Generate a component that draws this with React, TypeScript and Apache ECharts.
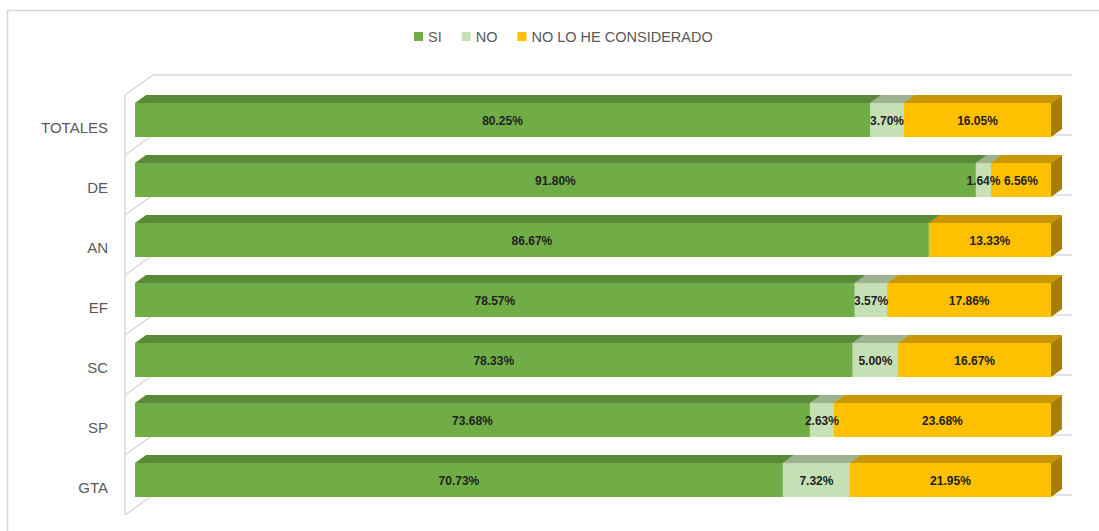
import React, { useEffect, useRef } from "react";
import * as echarts from "echarts";

const categories = ["TOTALES", "DE", "AN", "EF", "SC", "SP", "GTA"];
const siValues = [80.25, 91.8, 86.67, 78.57, 78.33, 73.68, 70.73];
const noValues = [3.7, 1.64, 0, 3.57, 5.0, 2.63, 7.32];
const noLoValues = [16.05, 6.56, 13.33, 17.86, 16.67, 23.68, 21.95];
const seriesNames = ["SI", "NO", "NO LO HE CONSIDERADO"];

const palettes = [
  { front: "#70AD47", top: "#5A8A39", side: "#4C7630" },
  { front: "#C5E0B4", top: "#9DB390", side: "#869a7a" },
  { front: "#FFC000", top: "#C99800", side: "#A67E00" },
];

const DX = 11;
const DY = 8;
const FONT = "Liberation Sans, Arial, sans-serif";

function buildStack(values: number[][]) {
  const out: number[][][] = values.map(() => []);
  categories.forEach((_, i) => {
    let acc = 0;
    values.forEach((arr, s) => {
      const v = arr[i];
      out[s].push([i, acc, acc + v, v]);
      acc += v;
    });
  });
  return out;
}

export default function App() {
  const ref = useRef<HTMLDivElement>(null);
  useEffect(() => {
    if (!ref.current) return;
    const chart = echarts.init(ref.current, null, { renderer: "svg" });
    const stacks = buildStack([siValues, noValues, noLoValues]);

    const barSeries = stacks.map((data, s) => ({
      type: "custom",
      name: seriesNames[s],
      itemStyle: { color: palettes[s].front },
      data,
      encode: { x: [1, 2], y: 0 },
      z: 10 + s,
      renderItem: (params: any, api: any) => {
        const i = api.value(0);
        const start = api.value(1);
        const end = api.value(2);
        const p0 = api.coord([start, i]);
        const p1 = api.coord([end, i]);
        const xa = p0[0];
        const xb = p1[0];
        if (xb - xa < 0.3) return null;
        const yc = p0[1];
        const yt = yc - 24;
        const yb = yc + 10;
        const pal = palettes[s];
        return {
          type: "group",
          children: [
            {
              type: "polygon",
              shape: { points: [[xa, yt], [xa + DX, yt - DY], [xb + DX, yt - DY], [xb, yt]] },
              style: { fill: pal.top },
            },
            {
              type: "polygon",
              shape: { points: [[xb, yt], [xb + DX, yt - DY], [xb + DX, yb - DY], [xb, yb]] },
              style: { fill: pal.side },
            },
            {
              type: "rect",
              shape: { x: xa, y: yt, width: xb - xa, height: yb - yt },
              style: { fill: pal.front },
            },
          ],
        };
      },
    }));

    const labelSeries = stacks.map((data, s) => ({
      type: "custom",
      name: seriesNames[s] + " label",
      silent: true,
      data,
      encode: { x: [1, 2], y: 0 },
      z: 30,
      renderItem: (params: any, api: any) => {
        const i = api.value(0);
        const start = api.value(1);
        const end = api.value(2);
        const v = api.value(3);
        if (v <= 0) return null;
        const p0 = api.coord([start, i]);
        const p1 = api.coord([end, i]);
        const yc = p0[1];
        return {
          type: "text",
          style: {
            text: v.toFixed(2) + "%",
            x: (p0[0] + p1[0]) / 2,
            y: yc - 6,
            align: "center",
            verticalAlign: "middle",
            textAlign: "center",
            textVerticalAlign: "middle",
            fill: "#222222",
            fontSize: 12,
            fontWeight: "bold",
            fontFamily: FONT,
          },
        };
      },
    }));

    const wallSeries = {
      type: "custom",
      name: "walls",
      silent: true,
      data: categories.map((_, i) => [i, 0]),
      encode: { y: 0, x: 1 },
      z: 1,
      renderItem: (params: any, api: any) => {
        const i = api.value(0);
        const pL = api.coord([0, i]);
        const pR = api.coord([100, i]);
        const yc = pL[1];
        const xl = pL[0] - 10;
        const xbk = pL[0] + 18;
        const xr = pR[0] + 21;
        const line = { stroke: "#D9D9D9", lineWidth: 1.5, fill: null };
        const children: any[] = [
          {
            type: "polyline",
            shape: { points: [[xl, yc - 32], [xbk, yc - 52], [xr, yc - 52]] },
            style: line,
          },
          {
            type: "line",
            shape: { x1: xl, y1: yc - 32, x2: xl, y2: yc + 28 },
            style: line,
          },
        ];
        if (i === categories.length - 1) {
          children.push({
            type: "polyline",
            shape: { points: [[xl, yc + 28], [xbk, yc + 8], [xr, yc + 8]] },
            style: line,
          });
        }
        return { type: "group", children };
      },
    };

    chart.setOption({
      animation: false,
      backgroundColor: "#ffffff",
      graphic: [
        {
          type: "rect",
          z: -10,
          shape: { x: 7.5, y: 10.5, width: 1200, height: 600 },
          style: { fill: "none", stroke: "#D9D9D9", lineWidth: 1.5 },
          silent: true,
        },
      ],
      legend: {
        data: seriesNames.map((n) => ({ name: n, icon: "rect" })),
        left: 409,
        top: 24,
        itemWidth: 9,
        itemHeight: 9,
        itemGap: 20,
        textStyle: { color: "#595959", fontSize: 14.5, fontFamily: FONT },
      },
      grid: { left: 135, right: 48, top: 97, bottom: 14, containLabel: false },
      xAxis: { type: "value", min: 0, max: 100, show: false },
      yAxis: {
        type: "category",
        inverse: true,
        data: categories,
        axisLine: { show: false },
        axisTick: { show: false },
        splitLine: { show: false },
        axisLabel: {
          margin: 27,
          color: "#595959",
          fontSize: 15,
          fontFamily: FONT,
        },
      },
      series: [wallSeries, ...barSeries, ...labelSeries],
    });
    return () => chart.dispose();
  }, []);
  return (
    <div
      ref={ref}
      style={{ position: "fixed", left: 0, top: 0, width: 1099, height: 531 }}
    />
  );
}
